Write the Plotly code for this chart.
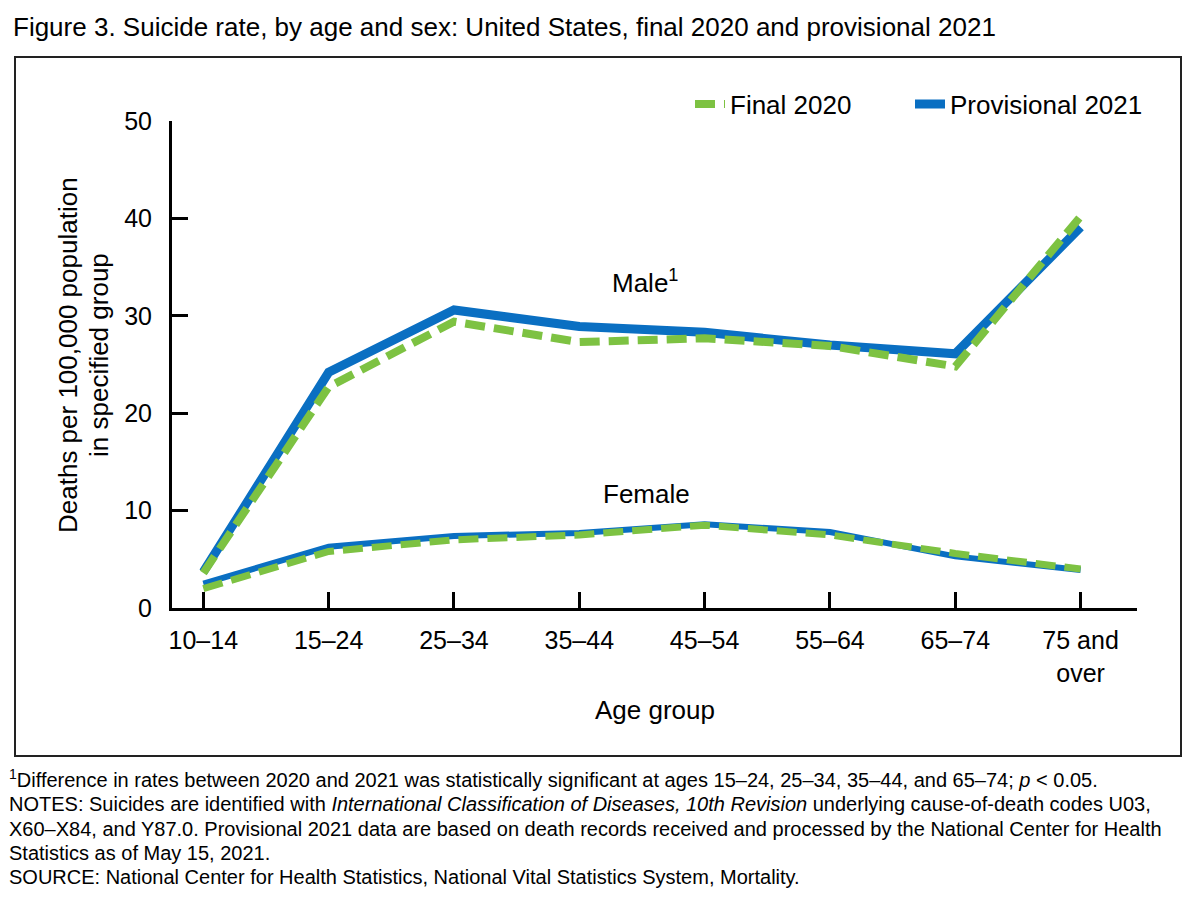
import plotly.graph_objects as go

age_groups = ["10–14", "15–24", "25–34", "35–44", "45–54", "55–64", "65–74", "75 and<br>over"]
male_final_2020 = [3.6, 22.7, 29.4, 27.3, 27.7, 26.9, 24.8, 40.2]
male_prov_2021 = [3.7, 24.2, 30.6, 28.9, 28.3, 27.0, 26.1, 39.1]
female_final_2020 = [2.0, 5.8, 7.0, 7.5, 8.5, 7.5, 5.6, 4.0]
female_prov_2021 = [2.5, 6.3, 7.4, 7.7, 8.6, 7.8, 5.3, 3.9]
y_ticks = [0, 10, 20, 30, 40, 50]

footnote_lines = [
    "<sup>1</sup>Difference in rates between 2020 and 2021 was statistically significant at ages 15–24, 25–34, 35–44, and 65–74; <i>p</i> &lt; 0.05.",
    "NOTES: Suicides are identified with <i>International Classification of Diseases, 10th Revision</i> underlying cause-of-death codes U03,",
    "X60–X84, and Y87.0. Provisional 2021 data are based on death records received and processed by the National Center for Health",
    "Statistics as of May 15, 2021.",
    "SOURCE: National Center for Health Statistics, National Vital Statistics System, Mortality.",
]

BLUE = "#0A6FC2"
GREEN = "#7DC242"
FONT = "Liberation Sans, Arial, sans-serif"

x = list(range(len(age_groups)))

# page offset (body margin) and plot area in page pixels
OX, OY = 8, 8
W, H = 1192, 902
L = 172 - OX
T = 121 - OY
PW, PH = 965, 487
R = W - L - PW
B = H - T - PH


def px(xp):
    return (xp - OX - L) / PW


def py(yp):
    return (T + PH - (yp - OY)) / PH


fig = go.Figure()
fig.add_trace(go.Scatter(x=x, y=male_prov_2021, mode="lines", name="Provisional 2021",
                         line=dict(color=BLUE, width=9), legend="legend2"))
fig.add_trace(go.Scatter(x=x, y=female_prov_2021, mode="lines", name="Provisional 2021",
                         line=dict(color=BLUE, width=6), showlegend=False))
fig.add_trace(go.Scatter(x=x, y=male_final_2020, mode="lines", name="Final 2020",
                         line=dict(color=GREEN, width=8, dash="20px,9px"), legend="legend"))
fig.add_trace(go.Scatter(x=x, y=female_final_2020, mode="lines", name="Final 2020",
                         line=dict(color=GREEN, width=7, dash="20px,9px"), showlegend=False))

legend_common = dict(orientation="h", xanchor="left", yanchor="middle",
                     font=dict(size=26, family=FONT), bgcolor="rgba(0,0,0,0)")

fig.update_layout(
    width=W, height=H,
    margin=dict(l=L, r=R, t=T, b=B),
    paper_bgcolor="white", plot_bgcolor="white",
    font=dict(family=FONT, color="black", size=25),
    showlegend=True,
    legend=dict(x=px(690), y=py(104), **legend_common),
    legend2=dict(x=px(910), y=py(104), **legend_common),
    xaxis=dict(range=[-0.25, 7.45], tickvals=x, ticktext=age_groups, showgrid=False, zeroline=False,
               showline=True, linecolor="black", linewidth=3, ticks="inside", ticklen=16,
               tickwidth=3, tickcolor="black", tickfont=dict(size=25), ticklabelstandoff=8),
    yaxis=dict(range=[0, 50], tickvals=y_ticks, showgrid=False, zeroline=False,
               showline=True, linecolor="black", linewidth=3, ticks="inside", ticklen=16,
               tickwidth=3, tickcolor="black", tickfont=dict(size=25), ticklabelstandoff=12),
    shapes=[dict(type="rect", xref="paper", yref="paper", x0=px(15), x1=px(1181), y0=py(756), y1=py(57),
                 line=dict(color="#222222", width=2), fillcolor="rgba(0,0,0,0)", layer="below")],
)

annotations = [
    dict(text="Figure 3. Suicide rate, by age and sex: United States, final 2020 and provisional 2021",
         x=px(11), y=py(27), xanchor="left", yanchor="middle", font=dict(size=26)),
    dict(text="Male<sup>1</sup>", x=px(645), y=py(281), xanchor="center", yanchor="middle", font=dict(size=26)),
    dict(text="Female", x=px(646), y=py(494), xanchor="center", yanchor="middle", font=dict(size=26)),
    dict(text="Deaths per 100,000 population", x=px(68), y=py(355), textangle=-90,
         xanchor="center", yanchor="middle", font=dict(size=26)),
    dict(text="in specified group", x=px(99), y=py(355), textangle=-90,
         xanchor="center", yanchor="middle", font=dict(size=26)),
    dict(text="Age group", x=px(655), y=py(710), xanchor="center", yanchor="middle", font=dict(size=26)),
]
foot_y = [778, 804, 829, 853, 877]
for line, yy in zip(footnote_lines, foot_y):
    annotations.append(dict(text=line, x=px(7), y=py(yy), xanchor="left", yanchor="middle",
                            align="left", font=dict(size=20)))
for a in annotations:
    a.update(xref="paper", yref="paper", showarrow=False)
fig.update_layout(annotations=annotations)

fig.write_html("out.html")
